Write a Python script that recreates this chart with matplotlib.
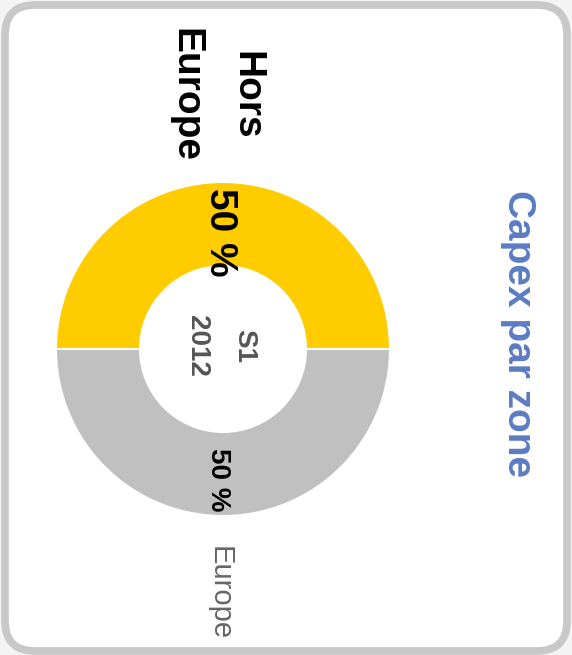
import matplotlib.pyplot as plt
from matplotlib.patches import FancyBboxPatch

# ── Data ──────────────────────────────────────
zones = ["Hors\nEurope", "Europe"]
shares = [50, 50]
colors = ["#ffcc00", "#c0c0c0"]
period = ["S1", "2012"]
title = "Capex par zone"

W, H = 572, 655
fig = plt.figure(figsize=(W / 100, H / 100), dpi=100, facecolor="#f4f4f4")
ax = fig.add_axes([0, 0, 1, 1])
ax.set_facecolor("none")

# rounded card
card = FancyBboxPatch((5, 4), 562, 646, boxstyle="round,pad=0,rounding_size=30",
                      facecolor="white", edgecolor="#c8c8c8", linewidth=5.5,
                      transform=ax.transData, zorder=0)
ax.add_patch(card)

cx, cy = 223, H - 349
r_out, r_in = 167, 83
ax.pie(shares, colors=colors, startangle=0, counterclock=True,
       center=(cx, cy), radius=r_out,
       wedgeprops=dict(width=r_out - r_in, edgecolor="white", linewidth=1.5))
ax.set_xlim(0, W)
ax.set_ylim(0, H)
ax.set_aspect("auto")
ax.axis("off")

font = ["Liberation Sans", "DejaVu Sans"]

# percentage labels inside each half
ax.text(220, H - 232, f"{shares[0]} %", rotation=-90, ha="center", va="center",
        fontsize=28, fontweight="bold", family=font, color="black")
ax.text(218, H - 480, f"{shares[1]} %", rotation=-90, ha="center", va="center",
        fontsize=20, fontweight="bold", family=font, color="black")

# period in the hole
ax.text(244, H - 346, period[0], rotation=-90, ha="center", va="center",
        fontsize=20, fontweight="bold", family=font, color="#555555")
ax.text(197, H - 346, period[1], rotation=-90, ha="center", va="center",
        fontsize=20, fontweight="bold", family=font, color="#555555")

# zone names
ax.text(246, H - 95, zones[0].split("\n")[0], rotation=-90, ha="center", va="center",
        fontsize=28, fontweight="bold", family=font, color="black")
ax.text(185, H - 95, zones[0].split("\n")[1], rotation=-90, ha="center", va="center",
        fontsize=28, fontweight="bold", family=font, color="black")
ax.text(220, H - 593, zones[1], rotation=-90, ha="center", va="center",
        fontsize=21, family=font, color="#666666")

ax.text(518, H - 334, title, rotation=-90, ha="center", va="center",
        fontsize=28, fontweight="bold", family=font, color="#5b7bc4")

fig.savefig("out.png", dpi=100, facecolor=fig.get_facecolor())
